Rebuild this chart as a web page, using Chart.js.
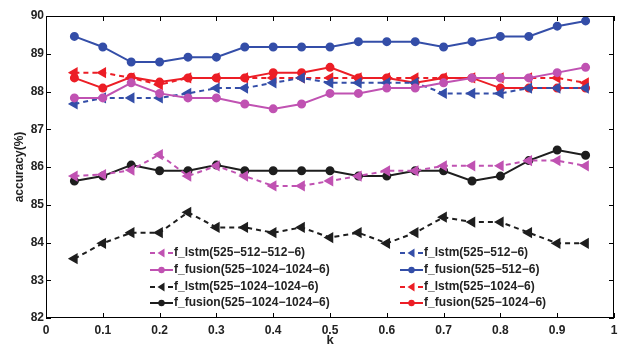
<!DOCTYPE html>
<html>
<head>
<meta charset="utf-8">
<script src="https://cdn.jsdelivr.net/npm/chart.js@4.4.1/dist/chart.umd.min.js"></script>
<style>
  html, body { margin: 0; padding: 0; background: #fff; }
  #wrap { width: 624px; height: 345px; position: relative; }
</style>
</head>
<body>
<div id="wrap"><canvas id="accChart"></canvas></div>
<script>
// Valores de k
const kValues = [0.05, 0.1, 0.15, 0.2, 0.25, 0.3, 0.35, 0.4, 0.45, 0.5, 0.55, 0.6, 0.65, 0.7, 0.75, 0.8, 0.85, 0.9, 0.95];

// Séries (accuracy %)
const lstm512x2    = [85.76, 85.80, 85.92, 86.33, 85.76, 86.03, 85.76, 85.50, 85.50, 85.63, 85.76, 85.90, 85.90, 86.03, 86.03, 86.03, 86.17, 86.17, 86.03];
const fusion1024x2 = [87.83, 87.83, 88.23, 87.95, 87.83, 87.83, 87.67, 87.54, 87.67, 87.95, 87.95, 88.09, 88.09, 88.23, 88.36, 88.36, 88.36, 88.50, 88.64];
const lstm1024x2   = [83.57, 83.98, 84.26, 84.26, 84.80, 84.40, 84.40, 84.26, 84.40, 84.13, 84.26, 83.98, 84.26, 84.67, 84.54, 84.54, 84.26, 83.98, 83.98];
const fusion1024x2b= [85.63, 85.76, 86.05, 85.90, 85.90, 86.05, 85.90, 85.90, 85.90, 85.90, 85.76, 85.76, 85.90, 85.90, 85.63, 85.76, 86.17, 86.45, 86.31];
const lstm512      = [87.67, 87.83, 87.83, 87.83, 87.95, 88.09, 88.09, 88.23, 88.36, 88.23, 88.23, 88.23, 88.23, 87.95, 87.95, 87.95, 88.09, 88.09, 88.09];
const fusion512    = [89.46, 89.18, 88.78, 88.78, 88.91, 88.91, 89.18, 89.18, 89.18, 89.18, 89.32, 89.32, 89.32, 89.18, 89.32, 89.46, 89.46, 89.73, 89.87];
const lstm1024     = [88.50, 88.50, 88.36, 88.18, 88.36, 88.36, 88.36, 88.36, 88.36, 88.36, 88.36, 88.36, 88.36, 88.36, 88.36, 88.36, 88.36, 88.36, 88.23];
const fusion1024   = [88.36, 88.09, 88.38, 88.25, 88.36, 88.36, 88.36, 88.50, 88.50, 88.64, 88.36, 88.36, 88.23, 88.36, 88.36, 88.09, 88.09, 88.09, 88.09];

const labels = [
    'f_lstm(525\u2212512\u2212512\u22126)',
    'f_fusion(525\u22121024\u22121024\u22126)',
    'f_lstm(525\u22121024\u22121024\u22126)',
    'f_fusion(525\u22121024\u22121024\u22126)',
    'f_lstm(525\u2212512\u22126)',
    'f_fusion(525\u2212512\u22126)',
    'f_lstm(525\u22121024\u22126)',
    'f_fusion(525\u22121024\u22126)'
];

const MAGENTA = 'rgb(192,82,178)';
const BLACK = 'rgb(30,30,30)';
const BLUE = 'rgb(52,78,168)';
const RED = 'rgb(236,30,38)';
const FONT = '"Liberation Sans", Arial, sans-serif';

function serie(label, values, color, dashed) {
    return {
        label: label,
        data: values.map((v, i) => ({ x: kValues[i], y: v })),
        borderColor: color,
        backgroundColor: color,
        pointBackgroundColor: color,
        pointBorderColor: color,
        borderWidth: 2,
        borderDash: dashed ? [5, 4] : [],
        pointStyle: dashed ? 'triangle' : 'circle',
        pointRotation: dashed ? -90 : 0,
        pointRadius: dashed ? 4.5 : 3.5,
        tension: 0
    };
}

const datasets = [
    serie(labels[0], lstm512x2, MAGENTA, true),
    serie(labels[1], fusion1024x2, MAGENTA, false),
    serie(labels[2], lstm1024x2, BLACK, true),
    serie(labels[3], fusion1024x2b, BLACK, false),
    serie(labels[4], lstm512, BLUE, true),
    serie(labels[5], fusion512, BLUE, false),
    serie(labels[6], lstm1024, RED, true),
    serie(labels[7], fusion1024, RED, false)
];

// Caixa, ticks internos e legenda em duas colunas
const boxPlugin = {
    id: 'boxPlugin',
    afterDraw(chart) {
        const ctx = chart.ctx;
        const a = chart.chartArea;
        const xs = chart.scales.x, ys = chart.scales.y;
        ctx.save();
        ctx.strokeStyle = '#000';
        ctx.lineWidth = 1;
        ctx.setLineDash([]);
        ctx.strokeRect(a.left + 0.5, a.top + 0.5, a.right - a.left - 1, a.bottom - a.top - 1);
        const tl = 5;
        ctx.beginPath();
        xs.ticks.forEach(t => {
            const px = Math.round(xs.getPixelForValue(t.value)) + 0.5;
            ctx.moveTo(px, a.bottom); ctx.lineTo(px, a.bottom - tl);
            ctx.moveTo(px, a.top); ctx.lineTo(px, a.top + tl);
        });
        ys.ticks.forEach(t => {
            const py = Math.round(ys.getPixelForValue(t.value)) + 0.5;
            ctx.moveTo(a.left, py); ctx.lineTo(a.left + tl, py);
            ctx.moveTo(a.right, py); ctx.lineTo(a.right - tl, py);
        });
        ctx.stroke();

        // legenda
        const cols = [150, 400];
        const rows = [253, 270, 287, 303];
        ctx.font = 'bold 12px ' + FONT;
        ctx.textBaseline = 'middle';
        chart.data.datasets.forEach((ds, i) => {
            const x0 = cols[Math.floor(i / 4)];
            const y0 = rows[i % 4];
            ctx.strokeStyle = ds.borderColor;
            ctx.fillStyle = ds.borderColor;
            ctx.lineWidth = 2;
            ctx.setLineDash(ds.borderDash);
            ctx.beginPath();
            ctx.moveTo(x0, y0); ctx.lineTo(x0 + 23, y0);
            ctx.stroke();
            ctx.setLineDash([]);
            const cx = x0 + 11.5;
            ctx.beginPath();
            if (ds.pointStyle === 'triangle') {
                ctx.moveTo(cx - 4, y0); ctx.lineTo(cx + 3, y0 - 4.5); ctx.lineTo(cx + 3, y0 + 4.5);
                ctx.closePath();
            } else {
                ctx.arc(cx, y0, 3.2, 0, Math.PI * 2);
            }
            ctx.fill();
            ctx.fillStyle = '#222';
            ctx.fillText(ds.label, x0 + 24, y0);
        });
        ctx.restore();
    }
};

const accCtx = document.getElementById('accChart').getContext('2d');
const accChart = new Chart(accCtx, {
    type: 'line',
    data: { datasets: datasets },
    options: {
        responsive: true,
        maintainAspectRatio: false,
        animation: false,
        layout: { padding: { top: 16, right: 10, left: 0, bottom: 0 } },
        plugins: {
            legend: { display: false },
            tooltip: { enabled: false }
        },
        scales: {
            x: {
                type: 'linear',
                min: 0,
                max: 1,
                grid: { display: false, drawTicks: false },
                border: { display: false },
                ticks: {
                    stepSize: 0.1,
                    padding: 5,
                    color: '#222',
                    font: { family: FONT, size: 12, weight: 'bold' },
                    maxRotation: 0,
                    callback: v => String(Math.round(v * 10) / 10)
                },
                title: {
                    display: true,
                    text: 'k',
                    color: '#222',
                    padding: { top: 0, bottom: -3 },
                    font: { family: FONT, size: 13, weight: 'bold' }
                },
                afterFit(scale) { scale.height = 27; }
            },
            y: {
                min: 82,
                max: 90,
                grid: { display: false, drawTicks: false },
                border: { display: false },
                ticks: {
                    stepSize: 1,
                    padding: 2,
                    color: '#222',
                    font: { family: FONT, size: 12, weight: 'bold' }
                },
                title: {
                    display: true,
                    text: 'accuracy(%)',
                    color: '#222',
                    padding: { top: 12, bottom: 0 },
                    font: { family: FONT, size: 12, weight: 'bold' }
                },
                afterFit(scale) { scale.width = 46; }
            }
        }
    },
    plugins: [boxPlugin]
});
</script>
</body>
</html>
